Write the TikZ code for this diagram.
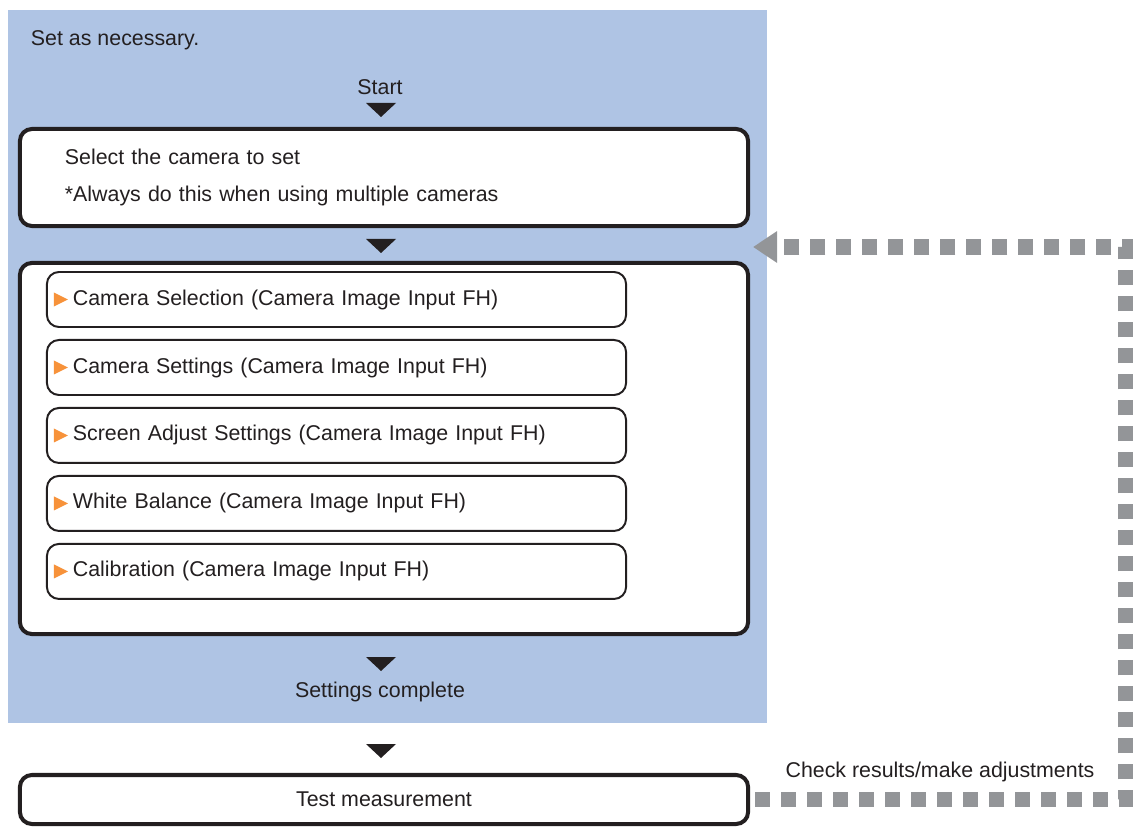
\documentclass[tikz,border=0pt]{standalone}
\usepackage{fontspec}
\setmainfont{Liberation Sans}
\usetikzlibrary{arrows.meta, positioning}
\definecolor{panelbg}{HTML}{AFC4E4}
\definecolor{ink}{HTML}{231F20}
\definecolor{marker}{HTML}{F7923A}
\definecolor{loopgray}{HTML}{939598}

\begin{document}
\begin{tikzpicture}[
      x=0.025cm, y=-0.025cm,
      node distance=0.275cm,
      every node/.style={font=\fontsize{15.2}{18}\selectfont, text=ink},
      bigbox/.style={rectangle, rounded corners=0.3cm, draw=ink, line width=2.85pt, fill=white,
                  minimum width=18.2cm},
      itembox/.style={rectangle, rounded corners=0.3cm, draw=ink, line width=1.4pt, fill=white,
                  inner xsep=0.65cm, text width=13.175cm, minimum height=1.375cm, align=left,
                  path picture={\fill[marker, sharp corners] ([shift={(0.175cm,0.175cm)}]path picture bounding box.west)
                    -- ([shift={(0.525cm,0)}]path picture bounding box.west)
                    -- ([shift={(0.175cm,-0.175cm)}]path picture bounding box.west) -- cycle;}},
      flowtri/.style={fill=ink},
      loopline/.style={loopgray, line width=10.67pt, dash pattern=on 0.375cm off 0.275cm,
                  -{Triangle[length=0.6cm, width=0.75cm]}}
    ]
      \useasboundingbox (0,0) rectangle (1133,827);
      \fill[panelbg] (8,10) rectangle (767,723);

      \node[anchor=west] (note) at (26,40) {Set as necessary.};
      \node (start) at (380,87) {Start};
      \node[bigbox, minimum height=2.425cm, inner xsep=1.125cm, text width=15.95cm, align=left,
            font=\fontsize{15.2}{26.3}\selectfont] (select) at (384,177.5)
            {Select the camera to set\\{*}Always do this when using multiple cameras};
      \node[bigbox, minimum height=9.275cm] (group) at (384,448.5) {};
      \node[itembox] (camsel) at (336.5,299.5) {Camera Selection (Camera Image Input FH)};
      \node[itembox, below=of camsel] (camset) {Camera Settings (Camera Image Input FH)};
      \node[itembox, below=of camset] (screen) {Screen Adjust Settings (Camera Image Input FH)};
      \node[itembox, below=of screen] (white) {White Balance (Camera Image Input FH)};
      \node[itembox, below=of white] (calib) {Calibration (Camera Image Input FH)};
      \node (done) at (380,692) {Settings complete};
      \node[bigbox, minimum height=1.225cm] (test) at (384,799.5) {Test measurement};

      % flow markers
      \foreach \y in {103,239,657,744}
        \fill[flowtri] (366,\y) -- (396,\y) -- (381,\y+14) -- cycle;

      % feedback loop
      \coordinate (loopin) at (753,247);
      \draw[loopline] ([xshift=0.125cm]test.east) -- ++(370,0) |- (loopin);
      \node (check) at (940,772) {Check results/make adjustments};
    \end{tikzpicture}
\end{document}
